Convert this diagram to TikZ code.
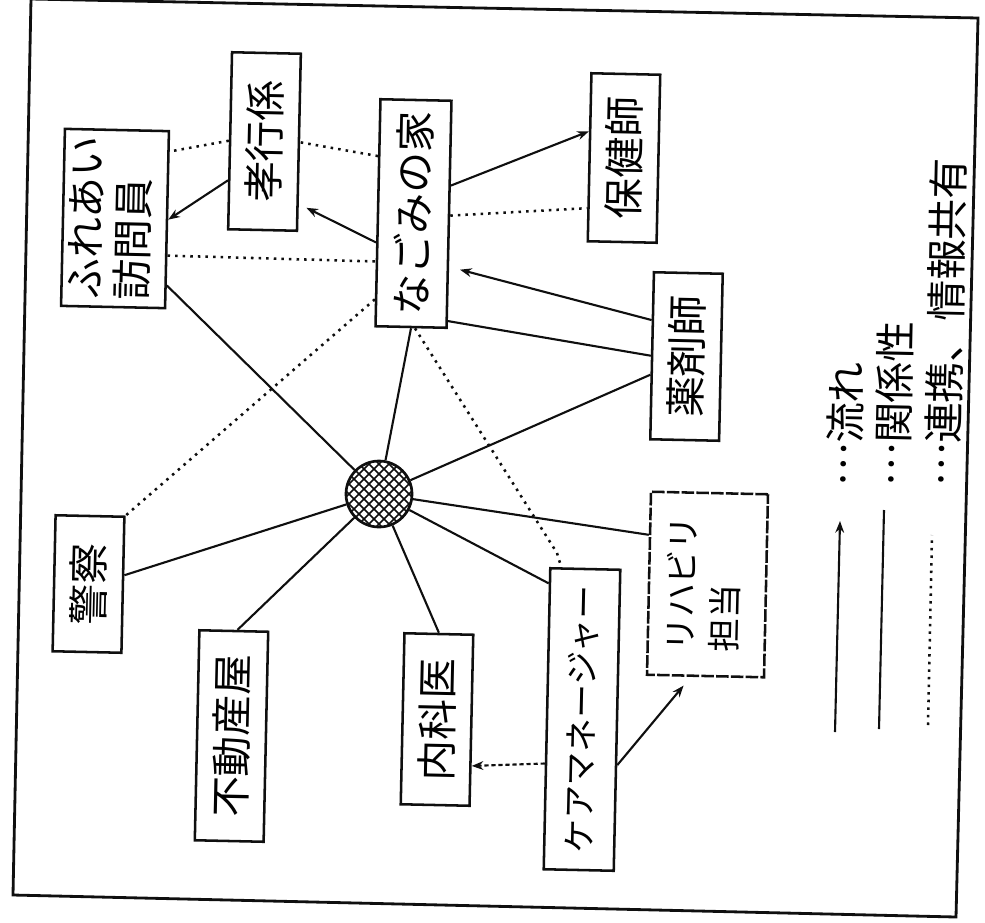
\documentclass[tikz,border=0pt]{standalone}
\usepackage{fontspec}
\setmainfont{Noto Sans CJK JP}
\usepackage{tikz}
\usetikzlibrary{arrows.meta,calc}
\definecolor{scanblack}{RGB}{15,15,15}

\begin{document}
\begin{tikzpicture}[x=0.025cm,y=-0.025cm,
    box/.style={draw=scanblack,line width=1.8pt,fill=white,inner sep=0pt,
                rotate=-1.25,minimum width=1.72cm,align=center,
                font=\fontsize{29}{31}\selectfont},
    smallbox/.style={box,font=\fontsize{24}{31}\selectfont},
    softbox/.style={smallbox,dash pattern=on 9pt off 1.5pt},
    hub/.style={circle,draw=scanblack,line width=1.9pt,minimum size=1.65cm,inner sep=0pt,
                path picture={
                  \foreach \k in {-6,...,6}{
                    \draw[line width=1.2pt] ([xshift=\k*0.25cm]path picture bounding box.center)
                      ++(-1cm,-1cm) -- ++(2cm,2cm);
                    \draw[line width=1.2pt] ([xshift=\k*0.25cm]path picture bounding box.center)
                      ++(-1cm,1cm) -- ++(2cm,-2cm);
                  }}},
    arr/.style={-{Stealth[scale=0.85]},line width=1.5pt,scanblack},
    rel/.style={line width=1.5pt,scanblack},
    coop/.style={line width=1.8pt,scanblack,dash pattern=on 1.8pt off 3.6pt},
    legend/.style={inner sep=0pt,rotate=-1.25,anchor=south,
                   font=\fontsize{29}{29}\selectfont}
  ]
    \useasboundingbox (0,0) rectangle (985,922);

    % scanned page frame
    \draw[line width=2pt,scanblack] (31,-1) -- (978,18) -- (956,917) -- (13,895) -- cycle;

    \node[box,minimum width=2.6cm,minimum height=4.425cm] (fureai) at (115,218.5)
      {\rotatebox{90}{\begin{tabular}{@{}l@{}}ふれあい\\訪問員\end{tabular}}};
    \node[box,minimum height=4.425cm] (koko) at (264.5,141.5) {\rotatebox{90}{孝行係}};
    \node[box,minimum width=1.775cm,minimum height=5.675cm] (nagomi) at (413.5,213.5)
      {\rotatebox{90}{なごみの家}};
    \node[box,minimum height=4.2cm] (hoken) at (624,158) {\rotatebox{90}{保健師}};
    \node[box,minimum height=4.175cm] (yaku) at (686.5,356.5) {\rotatebox{90}{薬剤師}};
    \node[softbox,minimum width=2.925cm,minimum height=4.575cm] (riha) at (707.5,584.5)
      {\rotatebox{90}{\begin{tabular}{@{}l@{}}リハビリ\\担当\end{tabular}}};
    \node[smallbox,minimum width=1.75cm,minimum height=7.525cm] (keama) at (582,719.5)
      {\rotatebox{90}{ケアマネージャー}};
    \node[box,minimum height=4.275cm] (naika) at (437,719.5) {\rotatebox{90}{内科医}};
    \node[box,minimum height=5.25cm] (fudosan) at (231.5,736) {\rotatebox{90}{不動産屋}};
    \node[box,minimum height=3.4cm] (keisatsu) at (88.5,584) {\rotatebox{90}{警察}};
    \node[hub] (hub) at (379,494) {};

    % arrows, relations and links
    \draw[arr] (nagomi.38) -- (hoken.144);
    \draw[coop] (nagomi.-2) -- (hoken.235);
    \draw[arr,shorten >=8pt] (yaku.135) -- (nagomi.305);
    \draw[rel] (yaku.180) -- (nagomi.289);
    \draw[rel] (yaku.208) -- (hub);
    \draw[arr,shorten >=6pt] (nagomi.219) -- (koko.300);
    \draw[coop] (nagomi.123) -- (koko.east);
    \draw[coop] (koko.west) -- (fureai.52);
    \draw[arr] (koko.228) -- (fureai.east);
    \draw[coop] (fureai.-34) -- (nagomi.233);
    \draw[rel] (fureai.-51) -- (hub);
    \draw[coop] (nagomi.247) -- (keisatsu.north east);
    \draw[rel] (nagomi.south) -- (hub);
    \coordinate (kbend) at (557,553);
    \draw[coop] (nagomi.-88) -- (kbend) -- (keama.99);
    \draw[rel] (hub) -- (keisatsu.15);
    \draw[rel] (hub) -- (fudosan.88);
    \draw[rel] (hub) -- (naika.north);
    \draw[rel] (hub) -- (keama.105);
    \draw[rel] (hub) -- (riha.141);
    \draw[arr,densely dashed] (keama.231) -- (naika.-52);
    \draw[arr,shorten >=8pt] (keama.-51) -- (riha.261);

    % legend
    \coordinate (flowS) at (835,732);
    \coordinate (flowE) at (840,521);
    \coordinate (relS) at (879,729);
    \coordinate (relE) at (884,510);
    \coordinate (coopS) at (928,725);
    \coordinate (coopE) at (932,535);
    \draw[arr] (flowS) -- (flowE);
    \draw[rel] (relS) -- (relE);
    \draw[coop] (coopS) -- (coopE);
    \node[legend] (flowlab) at (844,487) {\rotatebox{90}{\raisebox{0.35em}{…}流れ}};
    \node[legend] (rellab) at (892,487) {\rotatebox{90}{\raisebox{0.35em}{…}関係性}};
    \node[legend] (cooplab) at (942,487) {\rotatebox{90}{\raisebox{0.35em}{…}連携、情報共有}};
  \end{tikzpicture}
\end{document}
